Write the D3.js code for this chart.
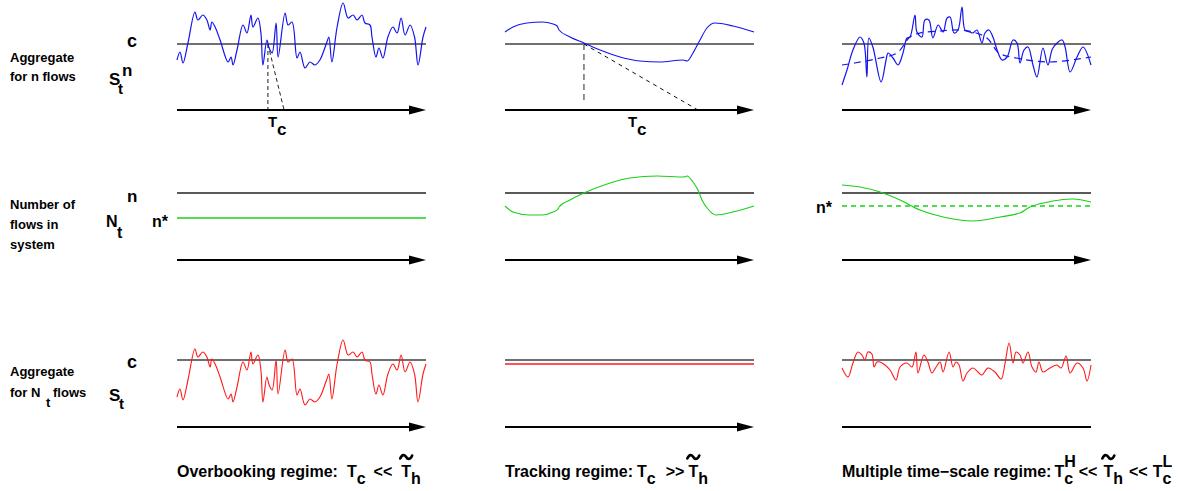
<!DOCTYPE html>
<html><head><meta charset="utf-8">
<script src="https://cdn.jsdelivr.net/npm/d3@7"></script>
<style>
body{margin:0;background:#fff}
text{font-family:"Liberation Sans",Arial,Helvetica,sans-serif;font-weight:bold;fill:#000}
</style>
</head><body>
<svg id="fig" width="1203" height="491"></svg>
<script>
// ---------- data (time 0..100 within each panel, level relative to reference line) ----------
// Overbooking: aggregate for n flows (blue), also aggregate for N_t flows (red)
const overbookT = [0,1.2,2.4,4.4,7.2,8.4,10.4,12,13.3,14,15.3,17.3,20.5,21.7,22.5,24.1,26.5,28.1,29.7,30.5,32.5,33.7,34.5,36.1,37,38.2,39.8,40.6,43.4,44.6,46.2,48.2,49.4,51.4,53.4,55.4,57.4,60.2,61,62.2,64.3,66.7,68.7,70.7,72.3,74.3,75.5,77.5,78.3,79.9,81.1,82.7,84.7,86.7,88.4,90,91.6,93.6,95.4,96.8,98.8,100];
const overbookS = [-16,-8,-19,1,32,24,29,24,14,22,17,4,-18,-13,-21,-6,19,11,29,17,26,11,-21,4,-4,-9,21,-13,31,19,22,-14,-8,-24,-18,-21,-16,2,7,-18,17,41,26,29,24,29,21,19,7,-13,-4,-14,7,17,11,26,9,19,7,-21,7,17];
const overbookCapBottom = 21;      // level of c in the N_t-flow panel, same units
const overbookNstar = -25;         // n* relative to n
const overbookTc = 36.5, overbookTcEnd = 43;

// Tracking
const trackT = [0,3.2,8.8,14.9,19.3,20.9,21.7,26.1,31.7,38.2,46.2,54.2,62.2,71.5,73.1,75.5,78.3,81.1,84.3,91.6,100];
const trackS = [12,17,21,22,20,18,14,7,1,-6,-13,-17,-18,-16,-17,-9,4,16,21,18,12];
const trackNT = [0,3.2,10,14.9,19.3,21.3,21.7,26.1,31.7,41,50.2,61,71.9,73.1,75.5,77.5,79.1,81.5,84.7,91.6,100];
const trackN  = [-13,-19,-22,-22,-19,-16,-14,-7,0,9,15,17,16,17,11,3,-7,-16,-22,-19,-13];
const trackRed = -4;
const trackTc = 31.7, trackTcEnd = 77.5;

// Multiple time-scale
const multiT = [0,2,4.4,7.2,8.8,10,10.8,12.4,15.7,17.7,18.5,20.5,22.5,24.5,26.1,27.3,29.3,30.1,32.1,33.3,34.9,36.5,38.6,40.6,42.2,43.4,45,46.6,48.2,49.4,51.4,52.6,54.2,56.2,57.4,59,60.6,62.7,64.3,66.3,68.7,70.3,71.5,73.1,74.7,76.7,78.3,80.7,82.7,84.7,88.4,89.6,91.6,94.4,96.8,100];
const multiS = [-41,-26,-6,7,1,-33,6,-3,-38,-16,-9,-14,-21,-9,6,7,29,12,7,24,24,6,19,12,26,27,11,14,37,14,12,11,14,1,11,14,7,-9,-16,-13,4,1,-19,-6,-3,-21,-33,-4,-21,-4,4,-3,-28,-13,-3,-21];
const multiTrendT = [0,5.2,15.3,22.1,27.3,31.3,39.4,47.4,52.6,58.2,63.1,70,83.1,100];
const multiTrend  = [-21,-19,-14,-9,7,11,13,14,12,6,-9,-14,-18,-13];
const multiNT = [0,7.2,15.3,23.3,31.3,40.6,52.6,63.5,71.5,75.5,84.7,92.8,100];
const multiN  = [8,6,1,-7,-17,-24,-28,-24,-20,-14,-8,-6,-9];
const multiNstar = -13;
const multiRedT = [0,2.4,4.4,6.4,8,9.2,10.4,12,12.9,14.1,16.1,19.3,21.7,23.3,26.1,28.1,29.7,30.5,32.9,34.5,36.1,37.8,39.4,40.6,43,44.6,45.8,47,48.6,50.2,52.6,54.6,56.2,58.6,61.4,63.9,65.5,67.1,68.7,69.9,71.5,72.7,74.7,76.3,77.9,79.1,80.7,83.5,86.3,88,90,91.6,94.4,96.8,98.4,100];
const multiRed  = [-8,-17,-3,8,5,0,8,6,-7,-2,-3,-10,-20,-7,-3,-7,8,-13,5,-2,-13,-7,-2,-12,8,-7,-2,-5,-21,-13,-8,-12,-15,-8,-12,-19,-3,17,-3,8,5,-3,8,-7,-12,-2,-12,-8,-5,-8,4,-13,-3,-8,-21,-5];

// ---------- layout ----------
const svg = d3.select("#fig");
const colX = [177, 505, 842], W = 249;
const refY = [44, 193, 360];
const axisY = [110, 260, 427];
const xs = c => d3.scaleLinear().domain([0,100]).range([colX[c], colX[c]+W]);
const ys = (r, off=0) => d3.scaleLinear().domain([off-50, off+50]).range([refY[r]+50, refY[r]-50]);
const SMOOTH = d3.curveCatmullRom.alpha(0.5), KINKED = d3.curveMonotoneX;

function series(T, V, x, y, color, w, curve, dash){
  const line = d3.line().x((d,i)=>x(T[i])).y(d=>y(d)).curve(curve);
  const p = svg.append("path").attr("d", line(V)).attr("fill","none")
    .attr("stroke", color).attr("stroke-width", w).attr("stroke-linejoin","round");
  if (dash) p.attr("stroke-dasharray", dash);
  return p;
}
function hline(x, y, v, color, w, dash){
  const p = svg.append("line").attr("x1", x(0)).attr("x2", x(100)).attr("y1", y(v)).attr("y2", y(v))
    .attr("stroke", color).attr("stroke-width", w);
  if (dash) p.attr("stroke-dasharray", dash);
}
function axis(c, r, head=true){
  const x = xs(c), y = axisY[r];
  const x1 = x(100);
  svg.append("line").attr("x1", x(0)).attr("x2", head ? x1-10 : x1).attr("y1", y).attr("y2", y)
    .attr("stroke","#000").attr("stroke-width",2);
  if (head) svg.append("path").attr("d", `M${x1},${y} L${x1-17},${y-4.5} L${x1-17},${y+4.5} Z`).attr("fill","#000");
}
function label(x, y, s, size){
  return svg.append("text").attr("x", x).attr("y", y).style("font-size", size+"px").text(s);
}
const BLUE = "#1414f0", GREEN = "#18d018", RED = "#ff1818", GRAY = "#707070";

// ---------- row 1: aggregate for n flows ----------
{
  let x = xs(0), y = ys(0);
  hline(x, y, 0, GRAY, 2);
  svg.append("line").attr("x1", x(overbookTc)).attr("x2", x(overbookTc)).attr("y1", y(0)).attr("y2", axisY[0])
    .attr("stroke","#444").attr("stroke-width",1.2).attr("stroke-dasharray","4,3");
  svg.append("line").attr("x1", x(overbookTc)).attr("x2", x(overbookTcEnd)).attr("y1", y(0)).attr("y2", axisY[0])
    .attr("stroke","#222").attr("stroke-width",1).attr("stroke-dasharray","4,3");
  series(overbookT, overbookS, x, y, BLUE, 1.2, SMOOTH);
  axis(0,0);

  x = xs(1);
  hline(x, y, 0, GRAY, 2);
  svg.append("line").attr("x1", x(trackTc)).attr("x2", x(trackTc)).attr("y1", y(0)).attr("y2", axisY[0]-6)
    .attr("stroke","#777").attr("stroke-width",1.6).attr("stroke-dasharray","6,4");
  svg.append("line").attr("x1", x(trackTc)).attr("x2", x(trackTcEnd)).attr("y1", y(0)).attr("y2", axisY[0])
    .attr("stroke","#111").attr("stroke-width",1).attr("stroke-dasharray","4,4");
  series(trackT, trackS, x, y, BLUE, 1.1, KINKED);
  axis(1,0);

  x = xs(2);
  hline(x, y, 0, GRAY, 2);
  series(multiTrendT, multiTrend, x, y, BLUE, 1.2, SMOOTH, "7,5");
  series(multiT, multiS, x, y, BLUE, 1.2, SMOOTH);
  axis(2,0);
}
// ---------- row 2: number of flows ----------
{
  const y = ys(1);
  let x = xs(0);
  hline(x, y, 0, "#222", 1.5);
  hline(x, y, overbookNstar, GREEN, 1.3);
  axis(0,1);
  x = xs(1);
  hline(x, y, 0, "#222", 1.5);
  series(trackNT, trackN, x, y, GREEN, 1.1, KINKED);
  axis(1,1);
  x = xs(2);
  hline(x, y, 0, "#222", 1.5);
  hline(x, y, multiNstar, GREEN, 1.3, "5,4");
  series(multiNT, multiN, x, y, GREEN, 1.1, SMOOTH);
  axis(2,1);
}
// ---------- row 3: aggregate for N_t flows ----------
{
  let x = xs(0);
  const yb = ys(2, overbookCapBottom);
  hline(x, yb, overbookCapBottom, GRAY, 2);
  series(overbookT, overbookS, x, yb, RED, 1.1, SMOOTH);
  axis(0,2);
  const y = ys(2);
  x = xs(1);
  hline(x, y, 0, GRAY, 2);
  hline(x, y, trackRed, RED, 1.4);
  axis(1,2);
  x = xs(2);
  hline(x, y, 0, GRAY, 2);
  series(multiRedT, multiRed, x, y, RED, 1.1, SMOOTH);
  axis(2,2,false);
}

// ---------- left labels ----------
label(10, 62, "Aggregate", 13);
label(10, 81, "for n flows", 13);
label(127, 47, "c", 18);
label(109, 85, "S", 17);
label(122, 76, "n", 17);
label(118, 94, "t", 15);

label(10, 209, "Number of", 13);
label(10, 229, "flows in", 13);
label(10, 249, "system", 13);
label(127, 202, "n", 17);
label(106, 227, "N", 16);
label(117, 238, "t", 16);
label(152, 227, "n*", 16);
label(816, 213, "n*", 16);

label(10, 376, "Aggregate", 13);
label(10, 397, "for N", 13);
label(46, 407, "t", 13);
label(53, 397, "flows", 13);
label(127, 368, "c", 18);
label(109, 401, "S", 17);
label(119, 409, "t", 15);

// T_c marks under the first row axes
label(268, 127, "T", 15); label(277, 135, "c", 17);
label(628, 127, "T", 15); label(637, 135, "c", 17);

// ---------- captions ----------
function tilde(cx, cy){
  svg.append("path")
    .attr("d", `M${cx-6},${cy+1.5} C${cx-4},${cy-3} ${cx-1.5},${cy-2.5} ${cx},${cy} S${cx+4},${cy+3} ${cx+6},${cy-1.5}`)
    .attr("fill","none").attr("stroke","#000").attr("stroke-width",2.6).attr("stroke-linecap","round");
}
function rich(x, y, pieces, size=16){
  let cx = x;
  pieces.forEach(p=>{
    if (p.stack){
      const a = label(cx, y-10, p.sup, size), b = label(cx, y+7, p.sub, size);
      cx += Math.max(a.node().getComputedTextLength(), b.node().getComputedTextLength()) + (p.gap||0);
    } else {
      const dy = p.sub ? 7 : 0;
      const t = label(cx, y+dy, p.t, size);
      const w = t.node().getComputedTextLength();
      if (p.tilde) tilde(cx + w/2, y-20);
      cx += w + (p.gap||0);
    }
  });
}
rich(177, 477, [{t:"Overbooking regime:", gap:9},{t:"T"},{t:"c",sub:1,gap:8},{t:"<<",gap:9},{t:"T",tilde:1},{t:"h",sub:1}]);
rich(505, 477, [{t:"Tracking regime:", gap:4},{t:"T"},{t:"c",sub:1,gap:10},{t:">>",gap:4},{t:"T",tilde:1},{t:"h",sub:1}]);
rich(842, 477, [{t:"Multiple time\u2212scale regime:", gap:3},{t:"T"},{stack:1,sup:"H",sub:"c",gap:3},{t:"<<",gap:6},{t:"T",tilde:1},{t:"h",sub:1,gap:6},{t:"<<",gap:5},{t:"T"},{stack:1,sup:"L",sub:"c"}]);
</script>
</body></html>
